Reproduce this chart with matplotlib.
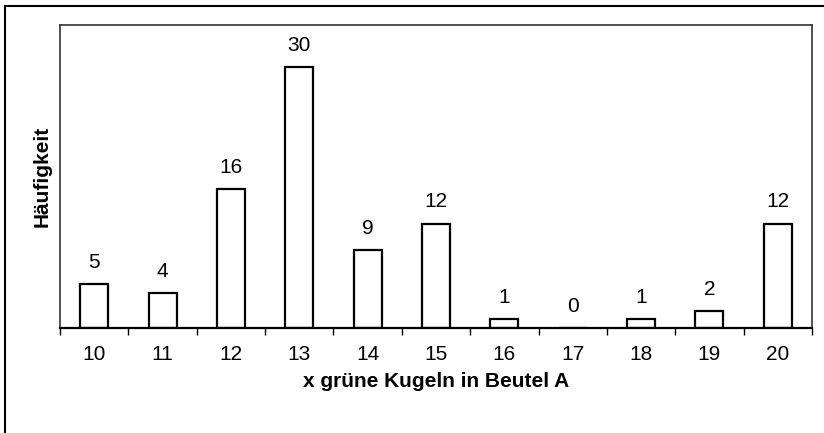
import matplotlib.pyplot as plt
from matplotlib.lines import Line2D

plt.rcParams['font.family'] = ['Liberation Sans', 'DejaVu Sans']

kugeln = [10, 11, 12, 13, 14, 15, 16, 17, 18, 19, 20]
haeufigkeit = [5, 4, 16, 30, 9, 12, 1, 0, 1, 2, 12]

fig = plt.figure(figsize=(8.24, 4.33), dpi=100)
ax = fig.add_axes([60 / 824, 1 - 328 / 433, 752 / 824, 303 / 433])

ax.bar(kugeln, haeufigkeit, width=0.41, color='white', edgecolor='black', linewidth=1.6)
for x, h in zip(kugeln, haeufigkeit):
    ax.annotate(str(h), (x, h), xytext=(0, 15.5), textcoords='offset points',
                ha='center', va='center', fontsize=15)

ax.set_xlim(9.5, 20.5)
ax.set_ylim(0, 34.8)
ax.set_yticks([])
ax.set_xticks(kugeln)
ax.set_xticklabels([str(k) for k in kugeln], fontsize=15)
ax.set_xticks([k - 0.5 for k in kugeln] + [20.5], minor=True)
ax.tick_params(axis='x', which='major', length=0, pad=12)
ax.tick_params(axis='x', which='minor', length=5, width=1, direction='out')

for s in ['left', 'top', 'right']:
    ax.spines[s].set_linestyle((0, (2, 1)))
    ax.spines[s].set_color('#333333')
    ax.spines[s].set_linewidth(1.2)
ax.spines['bottom'].set_linewidth(1.6)

ax.set_xlabel('x grüne Kugeln in Beutel A', fontsize=15, fontweight='bold', labelpad=6)
ax.set_ylabel('Häufigkeit', fontsize=15, fontweight='bold', labelpad=6)

# outer frame (only left and top edges visible in the reference)
fig.lines.append(Line2D([4.5 / 824, 4.5 / 824], [0, 1 - 6 / 433], transform=fig.transFigure,
                        color='black', linewidth=1.5))
fig.lines.append(Line2D([4.5 / 824, 1], [1 - 6 / 433, 1 - 6 / 433], transform=fig.transFigure,
                        color='black', linewidth=1.5))

fig.savefig('out.png', dpi=100)
